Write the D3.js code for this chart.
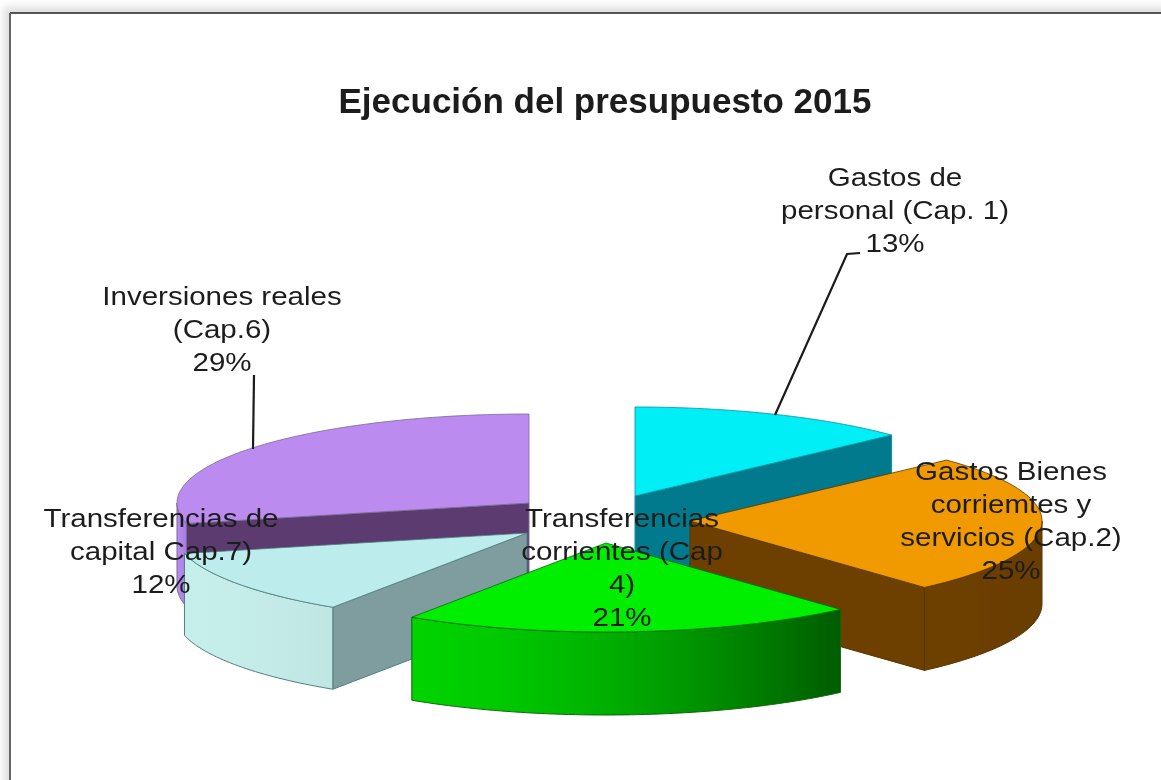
<!DOCTYPE html>
<html><head><meta charset="utf-8">
<script src="https://cdn.jsdelivr.net/npm/d3@7"></script>
<style>html,body{margin:0;padding:0;background:#fff;overflow:hidden}svg{display:block}</style>
</head><body><div id="c"></div>
<script>
const titleText = "Ejecución del presupuesto 2015";
const categories = ["Gastos de personal (Cap. 1)","Gastos Bienes corriemtes y servicios (Cap.2)","Transferencias corrientes (Cap 4)","Transferencias de capital Cap.7)","Inversiones reales (Cap.6)"];
const shares = [13.0,25.4,20.9,12.0,28.7];
const labelLines = [["Gastos de","personal (Cap. 1)"],["Gastos Bienes","corriemtes y","servicios (Cap.2)"],["Transferencias","corrientes (Cap","4)"],["Transferencias de","capital Cap.7)"],["Inversiones reales","(Cap.6)"]];

const W=1161,H=780;
const topColors=["#00eff6","#f09a05","#00ee00","#bdecec","#bb8bf0"];
const faceColors=["#057a8c","#6e4000","#006400","#7f9c9e","#5b3a70"];
const wallFrom=["#057a8c","#6e4000","#00d400","#c6eeea","#b88af0"];
const wallTo=["#057a8c","#6a3c00","#005c00","#bfe6e2","#a87ae0"];
const edgeColors=["#0b8f9c","#5a3400","#0a6a0a","#4f8080","#7a6a92"];
const centers=[[635,496],[690,521],[606,543],[527,533],[529,503]];
const depths=[92,83,83,82,83];
const labelAnchor=[[895,186],[1011,480],[622,527],[161,527],[222,305]];
const drawOrder=[4,0,1,3,2];
const rx=352,ry=89,lineH=33,stretch=1.135;

const svg=d3.select("#c").append("svg").attr("width",W).attr("height",H);
const defs=svg.append("defs");
const sh=defs.append("filter").attr("id","sh").attr("x","-5%").attr("y","-5%").attr("width","110%").attr("height","110%");
sh.append("feGaussianBlur").attr("stdDeviation",4);
const soft=defs.append("filter").attr("id","soft").attr("x","-5%").attr("y","-5%").attr("width","110%").attr("height","110%");
soft.append("feGaussianBlur").attr("stdDeviation",0.65);

// frame
svg.append("rect").attr("x",4).attr("y",7).attr("width",W+20).attr("height",H+20).attr("fill","#dcdcdc").attr("filter","url(#sh)");
svg.append("rect").attr("x",10).attr("y",13).attr("width",W+20).attr("height",H+20).attr("fill","#fff");
svg.append("line").attr("x1",10).attr("x2",W).attr("y1",13).attr("y2",13).attr("stroke","#222").attr("stroke-width",1.5);
svg.append("line").attr("x1",10).attr("x2",10).attr("y1",13).attr("y2",H).attr("stroke","#666").attr("stroke-width",2);

const root=svg.append("g").attr("filter","url(#soft)");
const sx=d3.scaleLinear().domain([-1,1]).range([-rx,rx]);
const sy=d3.scaleLinear().domain([-1,1]).range([ry,-ry]);
const arcs=d3.pie().sort(null).value(d=>d)(shares);
const rim=(a,c,dz=0)=>[c[0]+sx(Math.sin(a)),c[1]+sy(Math.cos(a))+dz];
const line=d3.line();
const sweep=(a0,a1)=>{const n=Math.max(2,Math.ceil((a1-a0)/0.02));return d3.range(n+1).map(i=>a0+(a1-a0)*i/n);};

arcs.forEach((d,i)=>{
  const g=defs.append("linearGradient").attr("id","w"+i).attr("gradientUnits","userSpaceOnUse");
  const a0=Math.max(d.startAngle,Math.PI/2),a1=Math.min(d.endAngle,3*Math.PI/2);
  const xs=sweep(a0,a1).map(a=>rim(a,centers[i])[0]);
  g.attr("x1",d3.min(xs)).attr("x2",d3.max(xs)).attr("y1",0).attr("y2",0);
  const mix=d3.interpolateRgb(wallFrom[i],wallTo[i]);
  d3.range(0,1.01,0.2).forEach(t=>g.append("stop").attr("offset",t).attr("stop-color",mix(Math.pow(t,1.5))));
});

drawOrder.forEach(i=>{
  const d=arcs[i],c=centers[i],g=root.append("g"),depth=depths[i];
  const a0=Math.max(d.startAngle,Math.PI/2),a1=Math.min(d.endAngle,3*Math.PI/2);
  const face=a=>{
    const p=rim(a,c);
    g.append("path").attr("d",line([c,p,[p[0],p[1]+depth],[c[0],c[1]+depth]])+"Z")
      .attr("fill",faceColors[i]).attr("stroke",edgeColors[i]).attr("stroke-width",1);
  };
  if(d.startAngle>Math.PI) face(d.startAngle);
  if(d.endAngle<Math.PI) face(d.endAngle);
  if(a1>a0){
    const ang=sweep(a0,a1);
    const pts=ang.map(a=>rim(a,c)).concat(ang.slice().reverse().map(a=>rim(a,c,depth)));
    g.append("path").attr("d",line(pts)+"Z").attr("fill",`url(#w${i})`).attr("stroke",edgeColors[i]).attr("stroke-width",1);
  }
  const top=[c].concat(sweep(d.startAngle,d.endAngle).map(a=>rim(a,c)));
  g.append("path").attr("d",line(top)+"Z").attr("fill",topColors[i]).attr("stroke",edgeColors[i]).attr("stroke-width",0.8);
});

// leaders
const leaders=[[[860,253],[847,254],[775,415]],[[254,375],[253,449]]];
leaders.forEach(l=>root.append("path").attr("d",line(l)).attr("fill","none").attr("stroke","#1a1a1a").attr("stroke-width",2.2));

// text
const font="'Liberation Sans',Arial,sans-serif";
root.append("text").attr("x",605).attr("y",113).attr("text-anchor","middle").attr("font-family",font)
  .attr("font-weight","bold").attr("font-size",35).attr("fill","#1a1a1a").text(titleText);
const pct=d3.format(".0f");
labelLines.forEach((ls,i)=>{
  const t=root.append("text").attr("text-anchor","middle").attr("font-family",font).attr("font-size",26).attr("fill","#1c1c1c")
    .attr("transform",`translate(${labelAnchor[i][0]},0) scale(${stretch},1)`);
  ls.concat(pct(shares[i])+"%").forEach((s,k)=>{
    t.append("tspan").attr("x",0).attr("y",labelAnchor[i][1]+k*lineH).text(s);
  });
});
</script></body></html>
